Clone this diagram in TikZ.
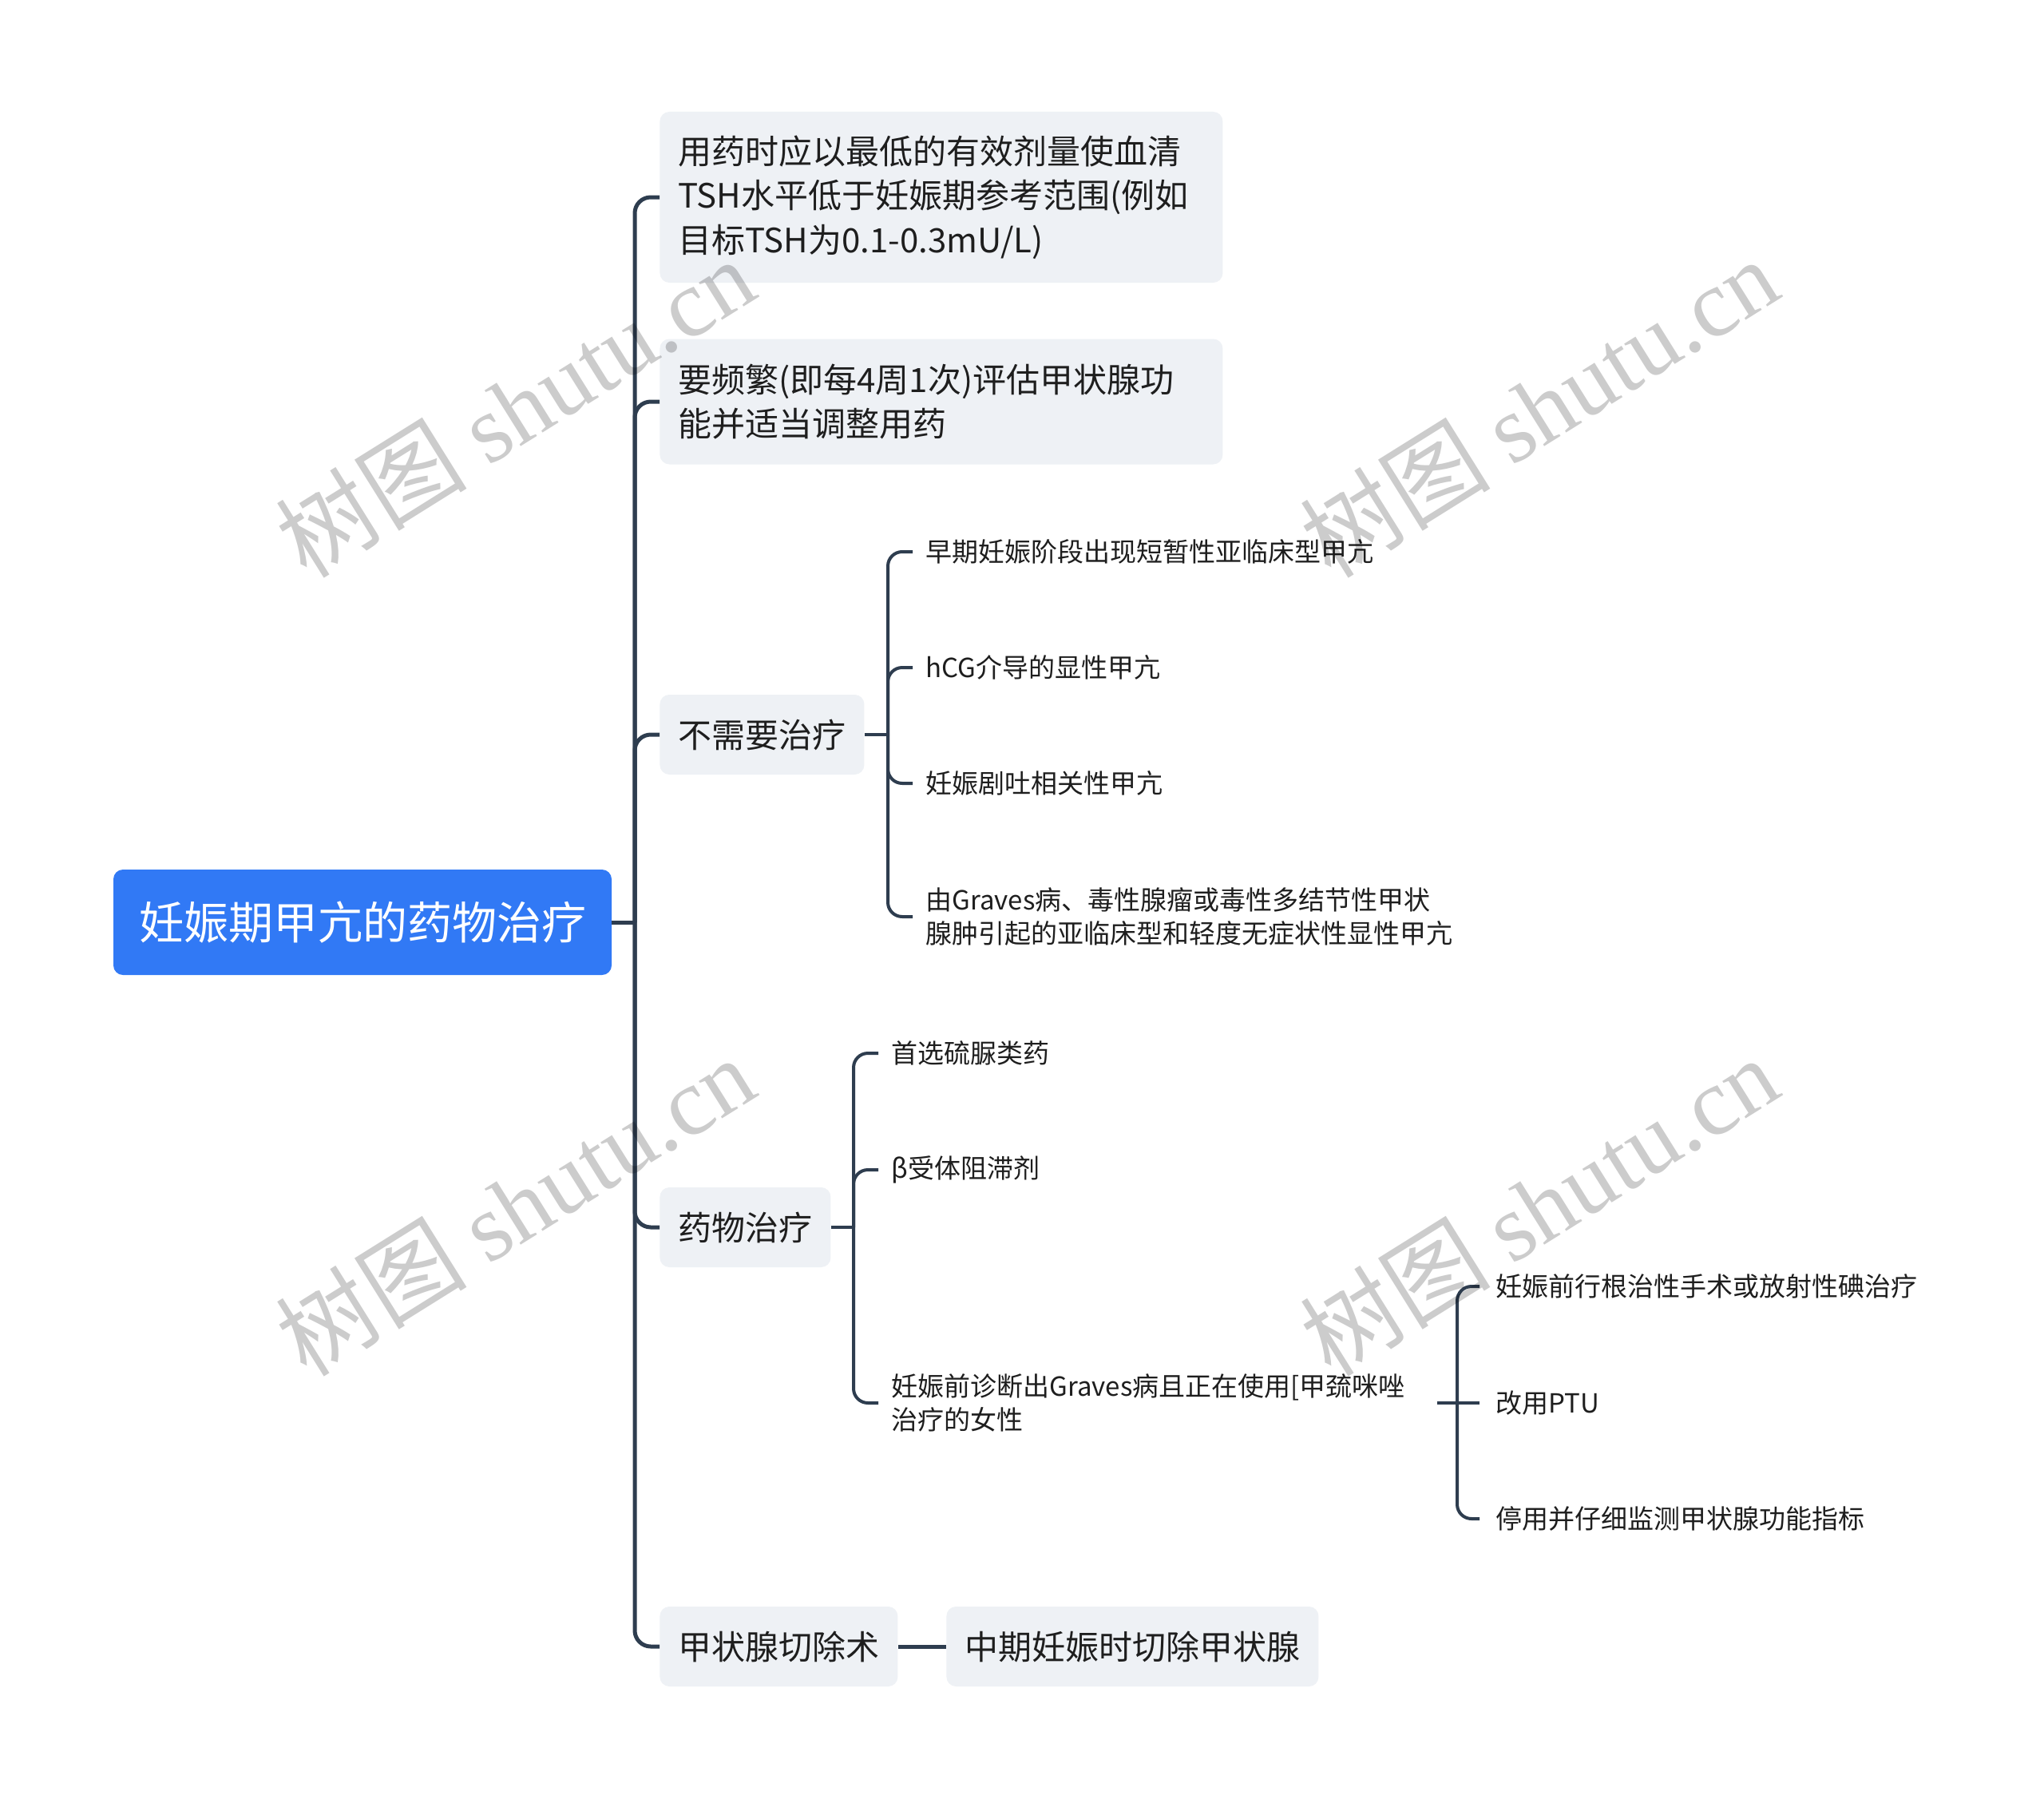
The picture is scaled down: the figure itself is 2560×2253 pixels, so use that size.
\documentclass[tikz,border=0pt]{standalone}
\usepackage{fontspec}
\setmainfont{Noto Sans CJK SC}
\newfontfamily\wmserif{Liberation Serif}
\newfontfamily\wmcjk{Noto Sans CJK SC}
\definecolor{rootblue}{HTML}{3179F5}
\definecolor{boxgray}{HTML}{EEF1F5}
\definecolor{linecol}{HTML}{2E3D4F}
\definecolor{txt}{HTML}{1E1E1E}
\begin{document}
\begin{tikzpicture}[x=0.5pt,y=-0.5pt,
  rootbox/.style={fill=rootblue, rounded corners=6pt, text=white, font=\fontsize{28}{34}\selectfont, minimum height=66pt, minimum width=312pt, inner sep=0pt},
  lonebox/.style={fill=boxgray, rounded corners=6pt, text=txt, font=\fontsize{21}{27.8}\selectfont, inner xsep=11.5pt, inner ysep=0pt, minimum height=50pt, anchor=west},
  leaf/.style={text=txt, font=\fontsize{16.5}{21.2}\selectfont, inner xsep=8pt, inner ysep=2pt, anchor=west, align=left},
  trunk/.style={draw=linecol, line width=2.5pt, rounded corners=10pt},
  twig/.style={draw=linecol, line width=2pt, rounded corners=9pt},
  wm/.style={text=black, text opacity=0.2, font=\fontsize{60}{60}\selectfont, rotate=32, inner sep=0pt}
]
\useasboundingbox (0,0) rectangle (2560,2253);
\fill[white] (0,0) rectangle (2560,2253);

% root
\node[rootbox] (root) at (454,1155) {妊娠期甲亢的药物治疗};

% level 1
\node[lonebox, text width=329.5pt, align=left, minimum height=107pt] (a1) at (826,247) {用药时应以最低的有效剂量使血清\\TSH水平低于妊娠期参考范围(例如\\目标TSH为0.1-0.3mU/L)};
\node[lonebox, text width=329.5pt, align=left, minimum height=78.5pt] (a2) at (826,503) {要频繁(即每4周1次)评估甲状腺功\\能并适当调整用药};
\node[lonebox] (a3) at (826,920) {不需要治疗};
\node[lonebox] (a4) at (826,1537) {药物治疗};
\node[lonebox] (a5) at (826,2062) {甲状腺切除术};
\node[lonebox] (a6) at (1185,2062) {中期妊娠时切除甲状腺};

\coordinate (j0) at (795,1155);
\draw[trunk] (root.east) -- (j0);
\foreach \n in {a1,a2,a3,a4,a5}{
  \draw[trunk] (j0) |- (\n.west);
}
\draw[trunk] (a5.east) -- (a6.west);

% under 不需要治疗
\node[leaf] (b1) at (1143,691) {早期妊娠阶段出现短暂性亚临床型甲亢};
\node[leaf] (b2) at (1143,836) {hCG介导的显性甲亢};
\node[leaf] (b3) at (1143,981) {妊娠剧吐相关性甲亢};
\node[leaf] (b4) at (1143,1148) {由Graves病、毒性腺瘤或毒性多结节性甲状\\腺肿引起的亚临床型和轻度无症状性显性甲亢};
\coordinate (j1) at (1112,920);
\draw[twig] (a3.east) -- (j1);
\foreach \n in {b1,b2,b3,b4}{
  \draw[twig] (j1) |- (\n.west);
}

% under 药物治疗
\node[leaf] (c1) at (1100,1319) {首选硫脲类药};
\node[leaf] (c2) at (1100,1465) {β受体阻滞剂};
\node[leaf] (c3) at (1100,1757) {妊娠前诊断出Graves病且正在使用[甲巯咪唑\\治疗的女性};
\coordinate (j2) at (1069,1537);
\draw[twig] (a4.east) -- (j2);
\foreach \n in {c1,c2,c3}{
  \draw[twig] (j2) |- (\n.west);
}

% under c3
\node[leaf, inner xsep=10pt] (d1) at (1853,1611) {妊娠前行根治性手术或放射性碘治疗};
\node[leaf, inner xsep=10pt] (d2) at (1853,1757) {改用PTU};
\node[leaf, inner xsep=10pt] (d3) at (1853,1902) {停用并仔细监测甲状腺功能指标};
\coordinate (j3) at (1825,1757);
\draw[twig] ([xshift=12pt]c3.east) -- (d2.west);
\draw[twig] (j3) |- (d1.west);
\draw[twig] (j3) |- (d3.west);

% watermarks
\node[wm] (w1) at (645,510) {{\wmcjk 树图} {\wmserif shutu.cn}};
\node[wm] (w2) at (1927,510) {{\wmcjk 树图} {\wmserif shutu.cn}};
\node[wm] (w3) at (645,1510) {{\wmcjk 树图} {\wmserif shutu.cn}};
\node[wm] (w4) at (1927,1510) {{\wmcjk 树图} {\wmserif shutu.cn}};
\end{tikzpicture}
\end{document}
